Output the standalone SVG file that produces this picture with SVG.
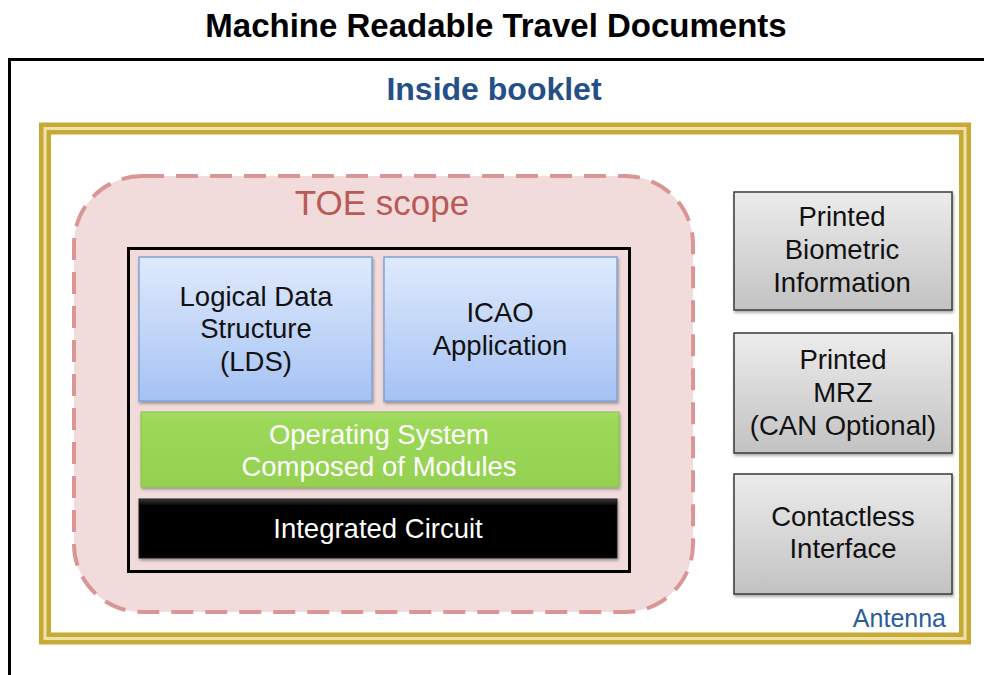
<svg xmlns="http://www.w3.org/2000/svg" width="984" height="675" viewBox="0 0 984 675">
<defs>
<linearGradient id="gBlue" x1="0" y1="0" x2="0" y2="1"><stop offset="0" stop-color="#e0eafc"/><stop offset="1" stop-color="#a5c2f4"/></linearGradient>
<linearGradient id="gGray" x1="0" y1="0" x2="0" y2="1"><stop offset="0" stop-color="#ececec"/><stop offset="1" stop-color="#c2c2c2"/></linearGradient>
<linearGradient id="gGreen" x1="0" y1="0" x2="0" y2="1"><stop offset="0" stop-color="#a6de68"/><stop offset="0.1" stop-color="#9cd95a"/><stop offset="1" stop-color="#94d150"/></linearGradient>
<linearGradient id="gBlack" x1="0" y1="0" x2="0" y2="1"><stop offset="0" stop-color="#3a3a3a"/><stop offset="0.12" stop-color="#000"/><stop offset="1" stop-color="#000"/></linearGradient>
<filter id="sh" x="-10%" y="-10%" width="120%" height="130%"><feDropShadow dx="1" dy="2" stdDeviation="1.5" flood-color="#000" flood-opacity="0.35"/></filter>
</defs>
<style>
text{font-family:"Liberation Sans",Arial,sans-serif;text-anchor:middle}
.title{font-size:33px;font-weight:bold;fill:#000}
.inside{font-size:32px;font-weight:bold;fill:#254f86}
.toe{font-size:35px;fill:#b85a57}
.lbl{font-size:27.5px;fill:#111}
.wl{font-size:27.5px;fill:#fff}
.blue{fill:url(#gBlue);stroke:#7fa4d6;stroke-width:1.5}
.gray{fill:url(#gGray);stroke:#3a3a3a;stroke-width:1.5}
</style>
<rect width="984" height="675" fill="#fff"/>
<text class="title" x="496" y="37">Machine Readable Travel Documents</text>
<rect x="9.5" y="59.5" width="990" height="640" fill="none" stroke="#000" stroke-width="3"/>
<text class="inside" x="494" y="100">Inside booklet</text>
<g id="booklet-frame">
<rect x="45" y="128.5" width="920" height="510" fill="none" stroke="#c7aa35" stroke-width="12"/>
<rect x="45" y="128.5" width="920" height="510" fill="none" stroke="#efe2a8" stroke-width="3"/>
<text x="946" y="627" style="font-size:25px;fill:#2b5d9c;text-anchor:end">Antenna</text>
</g>
<g id="toe-scope">
<rect x="74" y="176" width="619" height="436" rx="68" fill="#f2dcdb" stroke="#d99694" stroke-width="4" stroke-dasharray="22,12"/>
<text class="toe" x="382" y="215">TOE scope</text>
</g>
<g id="chip">
<rect x="128.5" y="248.5" width="501" height="323" fill="#f2dcdb" stroke="#000" stroke-width="3"/>
</g>
<g id="lds">
<rect class="blue" x="139" y="257" width="233" height="144" filter="url(#sh)"/>
<text class="lbl" x="256" y="306">Logical Data</text>
<text class="lbl" x="256" y="338">Structure</text>
<text class="lbl" x="256" y="371">(LDS)</text>
</g>
<g id="icao">
<rect class="blue" x="384" y="257" width="233" height="144" filter="url(#sh)"/>
<text class="lbl" x="500" y="322">ICAO</text>
<text class="lbl" x="500" y="355">Application</text>
</g>
<g id="os">
<rect x="141" y="412" width="478" height="75" fill="url(#gGreen)" stroke="#86c040" stroke-width="1" filter="url(#sh)"/>
<text class="wl" x="379" y="444">Operating System</text>
<text class="wl" x="379" y="476">Composed of Modules</text>
</g>
<g id="ic">
<rect x="139" y="499" width="478" height="59" fill="url(#gBlack)" stroke="#222" stroke-width="1" filter="url(#sh)"/>
<text class="wl" x="378" y="538">Integrated Circuit</text>
</g>
<g id="printed-bio">
<rect class="gray" x="734" y="192" width="218" height="118" filter="url(#sh)"/>
<text class="lbl" x="842" y="226">Printed</text>
<text class="lbl" x="842" y="259">Biometric</text>
<text class="lbl" x="842" y="292">Information</text>
</g>
<g id="printed-mrz">
<rect class="gray" x="734" y="333" width="218" height="120" filter="url(#sh)"/>
<text class="lbl" x="843" y="369">Printed</text>
<text class="lbl" x="843" y="402">MRZ</text>
<text class="lbl" x="843" y="435">(CAN Optional)</text>
</g>
<g id="contactless">
<rect class="gray" x="734" y="474" width="218" height="120" filter="url(#sh)"/>
<text class="lbl" x="843" y="526">Contactless</text>
<text class="lbl" x="843" y="558">Interface</text>
</g>
<g id="connectors"></g>
</svg>
